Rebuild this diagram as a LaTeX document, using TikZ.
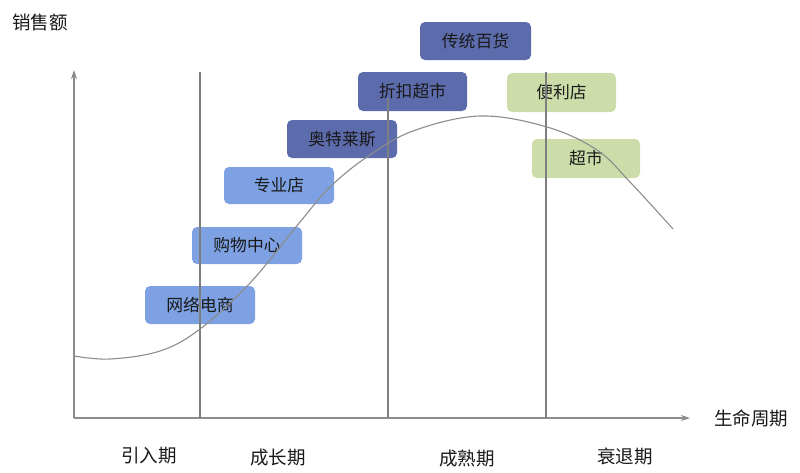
\documentclass[tikz,border=0pt]{standalone}
\usepackage{fontspec}
\setmainfont{Noto Sans CJK SC}
\usetikzlibrary{arrows.meta}
\definecolor{lightblue}{RGB}{125,161,226}
\definecolor{darkblue}{RGB}{92,107,172}
\definecolor{lightgreen}{RGB}{205,221,170}
\definecolor{axisgray}{RGB}{140,140,140}
\definecolor{txt}{RGB}{25,25,25}
\tikzset{
  boxa/.style={rounded corners=5pt, inner sep=0pt, text=txt, font=\fontsize{16.8}{18}\selectfont},
  axlab/.style={text=txt, font=\fontsize{18.5}{20}\selectfont, inner sep=0pt},
  axline/.style={draw=axisgray, line width=1.3pt},
  sepline/.style={draw=axisgray!90!black, line width=1.1pt},
}
\begin{document}
\begin{tikzpicture}[x=1pt,y=-1pt]
\useasboundingbox (0,0) rectangle (800,472);
% boxes
\node[boxa, fill=lightblue, minimum width=110pt, minimum height=38pt] (wl) at (200,305) {网络电商};
\node[boxa, fill=lightblue, minimum width=110pt, minimum height=37pt] (gw) at (247,245.5) {购物中心};
\node[boxa, fill=lightblue, minimum width=110pt, minimum height=37pt] (zy) at (279,185.5) {专业店};
\node[boxa, fill=darkblue, minimum width=110pt, minimum height=38pt] (at) at (342,139) {奥特莱斯};
\node[boxa, fill=darkblue, minimum width=109pt, minimum height=39pt] (zk) at (412.5,91.5) {折扣超市};
\node[boxa, fill=darkblue, minimum width=111pt, minimum height=38pt] (ct) at (475.5,41) {传统百货};
\node[boxa, fill=lightgreen, minimum width=109pt, minimum height=39pt] (bl) at (561.5,92.5) {便利店};
\node[boxa, fill=lightgreen, minimum width=108pt, minimum height=39pt] (cs) at (586,158.5) {超市};
% axes
\coordinate (o) at (74,418);
\coordinate (ytip) at (74,70);
\coordinate (xtip) at (690,418);
\draw[axline, -{Stealth[length=9pt,width=6pt]}] (o) -- (ytip);
\draw[axline, -{Stealth[length=9pt,width=6pt]}] (o) -- (xtip);
% separators
\coordinate (s1t) at (200,72); \coordinate (s1b) at (200,418);
\coordinate (s2t) at (388,98); \coordinate (s2b) at (388,418);
\coordinate (s3t) at (546,72); \coordinate (s3b) at (546,418);
\draw[sepline] (s1t) -- (s1b);
\draw[sepline] (s2t) -- (s2b);
\draw[sepline] (s3t) -- (s3b);
% curve
\draw[draw=axisgray, line width=1.1pt] plot[smooth, tension=0.6] coordinates {
 (74,356) (110,359) (160,351) (200,329) (250,283) (300,222) (330,187) (367,157) (413,131) (480,116) (547,127) (597,150) (630,182) (673,229)};
% labels
\node[axlab] (yl) at (40,22) {销售额};
\node[axlab] (xl) at (751,418) {生命周期};
\node[axlab] (p1) at (149,456) {引入期};
\node[axlab] (p2) at (278,458) {成长期};
\node[axlab] (p3) at (467,458) {成熟期};
\node[axlab] (p4) at (625,456) {衰退期};
\end{tikzpicture}
\end{document}
